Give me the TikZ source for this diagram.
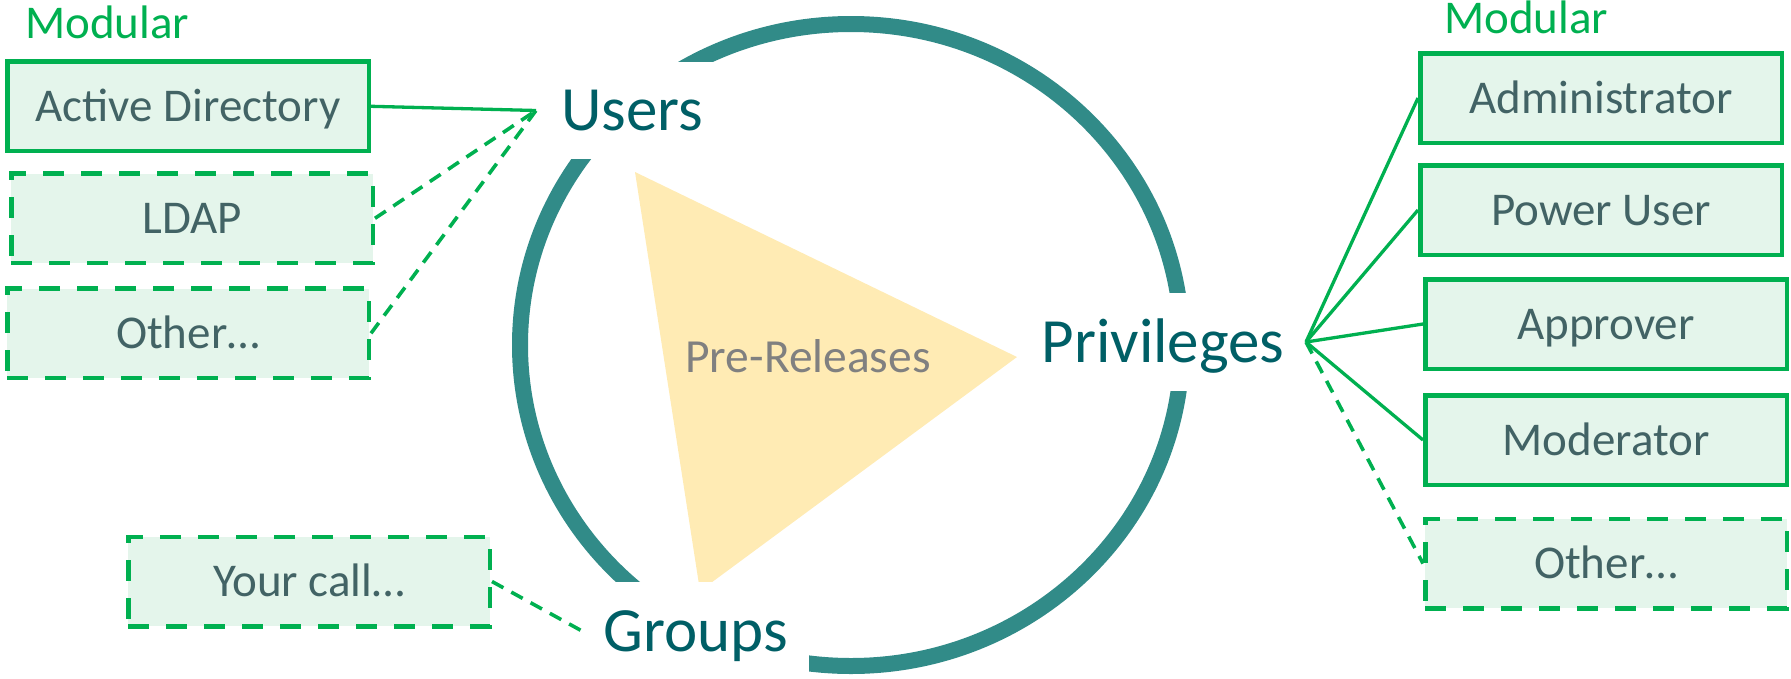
\documentclass[tikz,border=0pt]{standalone}
\usepackage{fontspec}
\setmainfont{Carlito}
\definecolor{greenc}{RGB}{0,176,80}
\definecolor{fillc}{RGB}{228,245,235}
\definecolor{boxtext}{RGB}{66,99,101}
\definecolor{maintext}{RGB}{0,95,102}
\definecolor{circc}{RGB}{49,139,136}
\definecolor{tric}{RGB}{255,235,180}
\definecolor{graytext}{RGB}{128,128,128}
\tikzset{
  modbox/.style={draw=greenc, line width=4.5pt, fill=fillc, minimum width=361.5pt, minimum height=89.5pt,
    text height=30pt, text depth=0pt, inner sep=0pt, text=boxtext, font=\fontsize{47pt}{56pt}\selectfont},
  dashbox/.style={modbox, dash pattern=on 21pt off 17pt},
  mainlabel/.style={fill=white, draw=none, inner sep=0pt, outer sep=0pt, text height=40pt, text depth=0pt,
    text=maintext, font=\fontsize{63pt}{70pt}\selectfont},
  conn/.style={draw=greenc, line width=3.3pt},
  dconn/.style={conn, line width=3.6pt, dash pattern=on 13pt off 9pt},
  modlabel/.style={text=greenc, inner sep=0pt, anchor=base west, font=\fontsize{47pt}{56pt}\selectfont}
}
\begin{document}
\begin{tikzpicture}[x=1pt,y=-1pt]
\useasboundingbox (0,0) rectangle (1791,678);
% ring and triangle
\draw[line width=16pt, circc] (851,345) ellipse [x radius=331, y radius=321];
\fill[tric] (635,172) -- (1017,357) -- (700,591) -- cycle;
\node[text=graytext, inner sep=0pt, anchor=base, font=\fontsize{47.5pt}{56pt}\selectfont] (pre) at (808,372) {Pre-Releases};
% main labels (white boxes cut the ring)
\node[mainlabel, minimum width=193pt, minimum height=97pt] (users) at (632.5,110.5) {Users};
\node[mainlabel, minimum width=286pt, minimum height=98pt] (priv) at (1163,342) {Privileges};
\node[mainlabel, minimum width=227pt, minimum height=98pt] (groups) at (695.5,631) {Groups};
% Modular labels
\node[modlabel] (modL) at (25,38) {Modular};
\node[modlabel] (modR) at (1444,33) {Modular};
% left boxes
\node[modbox] (ad) at (188,106.3) {Active Directory};
\node[dashbox] (ldap) at (192,218.3) {LDAP};
\node[dashbox] (othL) at (188,333.3) {Other…};
\node[dashbox] (call) at (309,581.5) {Your call…};
% right boxes
\node[modbox] (admin) at (1601,98) {Administrator};
\node[modbox] (power) at (1601,210) {Power User};
\node[modbox] (appr) at (1606,324) {Approver};
\node[modbox] (moder) at (1606,440) {Moderator};
\node[dashbox] (othR) at (1606,563.5) {Other…};
% connectors
\draw[conn] (ad.east) -- (users.west);
\draw[dconn] (ldap.east) -- (users.west);
\draw[dconn] (othL.east) -- (users.west);
\draw[dconn] (call.east) -- (groups.west);
\draw[conn] (priv.east) -- (admin.west);
\draw[conn] (priv.east) -- (power.west);
\draw[conn] (priv.east) -- (appr.west);
\draw[conn] (priv.east) -- (moder.west);
\draw[dconn] (priv.east) -- (othR.west);
\end{tikzpicture}
\end{document}
